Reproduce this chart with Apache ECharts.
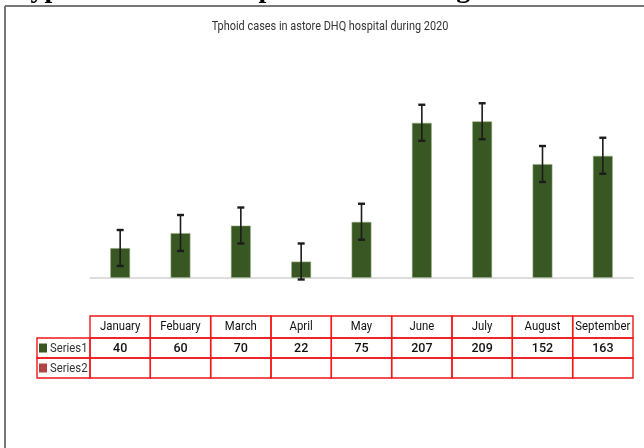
<!DOCTYPE html>
<html>
<head>
<meta charset="utf-8">
<script src="https://cdn.jsdelivr.net/npm/echarts@6/dist/echarts.min.js"></script>
<style>
  html, body { margin: 0; padding: 0; background: #fff; }
  #c { width: 644px; height: 448px; }
</style>
</head>
<body>
<div id="c"></div>
<script>
// Monthly typhoid cases, 2020
const months = ['January', 'Febuary', 'March', 'April', 'May', 'June', 'July', 'August', 'September'];
const series1 = [40, 60, 70, 22, 75, 207, 209, 152, 163];
const series1Err = [24, 24, 24, 24, 24, 24, 24, 24, 24];
const series2 = [null, null, null, null, null, null, null, null, null];
const seriesNames = ['Series1', 'Series2'];
const seriesColors = ['#385723', '#b04545'];
const chartTitle = 'Tphoid cases in astore DHQ hospital during 2020';
const pageHeading = 'Typhoid cases in hospital ward during 2020';

const chart = echarts.init(document.getElementById('c'), null, { renderer: 'canvas' });

const sans = "Roboto, 'Noto Sans', sans-serif";
const squeeze = 0.84; // horizontally condensed lettering

const baseOption = {
  animation: false,
  backgroundColor: '#fff',
  grid: { left: 90, right: 11, top: 53, bottom: 170 },
  xAxis: {
    type: 'category',
    data: months,
    axisLine: { show: true, lineStyle: { color: '#d4d4d4', width: 1.5 } },
    axisTick: { show: false },
    axisLabel: { show: false },
    splitLine: { show: false }
  },
  yAxis: {
    type: 'value',
    min: 0,
    max: 300,
    show: false,
    splitLine: { show: false }
  },
  series: [
    {
      name: seriesNames[0],
      type: 'bar',
      data: series1,
      barWidth: 20,
      itemStyle: { color: seriesColors[0], borderColor: 'rgba(150,175,130,0.7)', borderWidth: 0.8 },
      z: 2
    },
    {
      name: 'error',
      type: 'custom',
      data: series1.map((v, i) => [i, v - series1Err[i], v + series1Err[i]]),
      encode: { x: 0, y: [1, 2] },
      clip: false,
      z: 3,
      renderItem(params, api) {
        const x = api.value(0);
        const lo = api.coord([x, api.value(1)]);
        const hi = api.coord([x, api.value(2)]);
        const hw = 3.5;
        const stroke = '#1c1c1c';
        return {
          type: 'group',
          children: [
            { type: 'line', shape: { x1: lo[0], y1: lo[1], x2: hi[0], y2: hi[1] }, style: { stroke, lineWidth: 1.6 } },
            { type: 'line', shape: { x1: lo[0] - hw, y1: lo[1], x2: lo[0] + hw, y2: lo[1] }, style: { stroke, lineWidth: 2.4 } },
            { type: 'line', shape: { x1: hi[0] - hw, y1: hi[1], x2: hi[0] + hw, y2: hi[1] }, style: { stroke, lineWidth: 2.4 } }
          ]
        };
      }
    }
  ]
};

chart.setOption(baseOption);

function condensedText(x, y, text, opts) {
  return {
    type: 'text', x, y, scaleX: squeeze, z: 11,
    style: Object.assign({ text, fontFamily: sans, fontSize: 13, fill: '#111',
      align: 'center', verticalAlign: 'middle' }, opts || {})
  };
}

// Data table under the plot, aligned to the category axis
function buildTable() {
  const c0 = chart.convertToPixel({ xAxisIndex: 0 }, 0);
  const c1 = chart.convertToPixel({ xAxisIndex: 0 }, 1);
  const colW = c1 - c0;
  const rowTops = [316, 338, 358];
  const rowBottom = 378;
  const rowH = [rowTops[1] - rowTops[0], rowTops[2] - rowTops[1], rowBottom - rowTops[2]];
  const labelLeft = 37;
  const red = '#f01818';
  const els = [];

  // chart title
  els.push(condensedText(330, 27, chartTitle, { fontSize: 13, fill: '#333' }));

  months.forEach((m, i) => {
    const cx = chart.convertToPixel({ xAxisIndex: 0 }, i);
    const x0 = cx - colW / 2;
    // header cell
    els.push({ type: 'rect', shape: { x: x0, y: rowTops[0], width: colW, height: rowH[0] },
      style: { fill: 'none', stroke: red, lineWidth: 1.4 }, z: 10 });
    els.push(condensedText(cx, rowTops[0] + rowH[0] / 2, m, { fontSize: 13.5 }));
    // series rows
    [series1, series2].forEach((arr, r) => {
      const y0 = rowTops[r + 1];
      els.push({ type: 'rect', shape: { x: x0, y: y0, width: colW, height: rowH[r + 1] },
        style: { fill: 'none', stroke: red, lineWidth: 1.4 }, z: 10 });
      if (arr[i] != null) {
        els.push({ type: 'text', x: cx, y: y0 + rowH[r + 1] / 2 + 0.5,
          style: { text: String(arr[i]), fontFamily: sans, fontSize: 12.5, fontWeight: 500,
            fill: '#111', align: 'center', verticalAlign: 'middle' }, z: 11 });
      }
    });
  });

  // legend keys column
  const firstLeft = c0 - colW / 2;
  seriesNames.forEach((name, r) => {
    const y0 = rowTops[r + 1];
    const h = rowH[r + 1];
    els.push({ type: 'rect', shape: { x: labelLeft, y: y0, width: firstLeft - labelLeft, height: h },
      style: { fill: 'none', stroke: red, lineWidth: 1.4 }, z: 10 });
    els.push({ type: 'rect', shape: { x: labelLeft + 2, y: y0 + h / 2 - 4.5, width: 8, height: 9 },
      style: { fill: seriesColors[r] }, z: 11 });
    els.push(condensedText(labelLeft + 13, y0 + h / 2 + 0.5, name,
      { fontSize: 13.5, fill: '#333', align: 'left' }));
  });

  // page frame and the heading above it
  els.push({ type: 'text', x: 14, y: 3.5,
    style: { text: pageHeading, fontFamily: "'Liberation Serif', serif", fontSize: 28, fontWeight: 'bold',
      fill: '#000', align: 'left', verticalAlign: 'bottom' }, z: 1 });
  els.push({ type: 'line', shape: { x1: 5, y1: 6, x2: 644, y2: 6 }, style: { stroke: '#777', lineWidth: 2 }, z: 12 });
  els.push({ type: 'line', shape: { x1: 5, y1: 6, x2: 5, y2: 448 }, style: { stroke: '#777', lineWidth: 2 }, z: 12 });

  chart.setOption({ graphic: { elements: els } });
}

buildTable();
</script>
</body>
</html>
